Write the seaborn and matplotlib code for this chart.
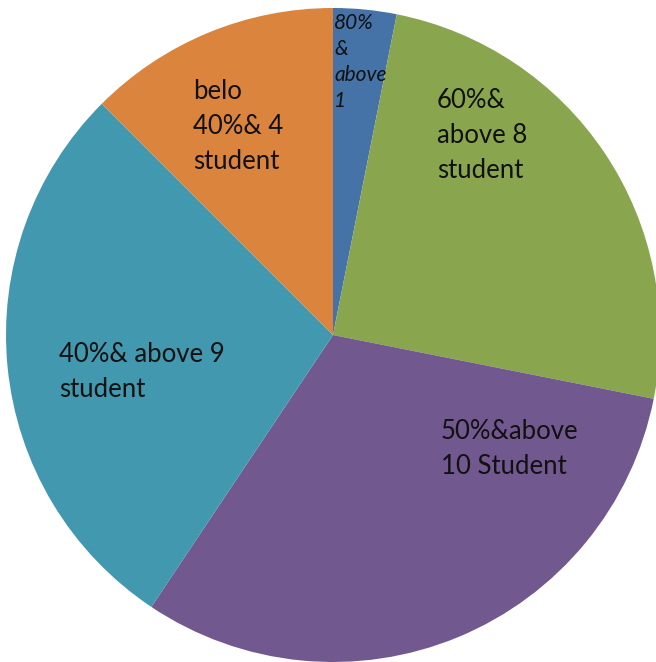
import matplotlib
matplotlib.use("Agg")
from matplotlib import pyplot as plt
import seaborn as sns

# ---- data ----
labels = ["80%\n&\nabove\n1", "60%&\nabove 8\nstudent", "50%&above\n10 Student",
          "40%& above 9\nstudent", "belo\n40%& 4\nstudent"]
counts = [1, 8, 10, 9, 4]
colors = ["#4572A7", "#89A54E", "#71588F", "#4198AF", "#DB843D"]

# label anchor (pixel left, pixel top), font size, italic
label_px = [(334, 13), (437, 88), (441, 419), (59, 342), (193, 79)]
label_size = [15, 18.5, 18.5, 18.5, 18.5]
label_italic = [True, False, False, False, False]
label_spacing = [1.38, 1.5, 1.5, 1.5, 1.5]

sns.set_theme(style="white")
plt.rcParams['font.family'] = ['Lato', 'DejaVu Sans']

W, H = 656, 662
cx, cy, R = 333, 335, 327

fig = plt.figure(figsize=(W / 100, H / 100), dpi=100)
ax = fig.add_axes([0, 0, 1, 1])
ax.pie(counts, colors=sns.color_palette(colors), startangle=90, counterclock=False,
       radius=1, wedgeprops={'linewidth': 0})
ax.set_aspect('auto')
ax.set_xlim(-cx / R, (W - cx) / R)
ax.set_ylim(-(H - cy) / R, cy / R)
ax.axis('off')

for lab, (px, py), fs, it, ls in zip(labels, label_px, label_size, label_italic, label_spacing):
    ax.text((px - cx) / R, (cy - py) / R, lab, fontsize=fs, ha='left', va='top',
            style='italic' if it else 'normal', color='#111111', linespacing=ls)

plt.savefig("out.png", dpi=100)
